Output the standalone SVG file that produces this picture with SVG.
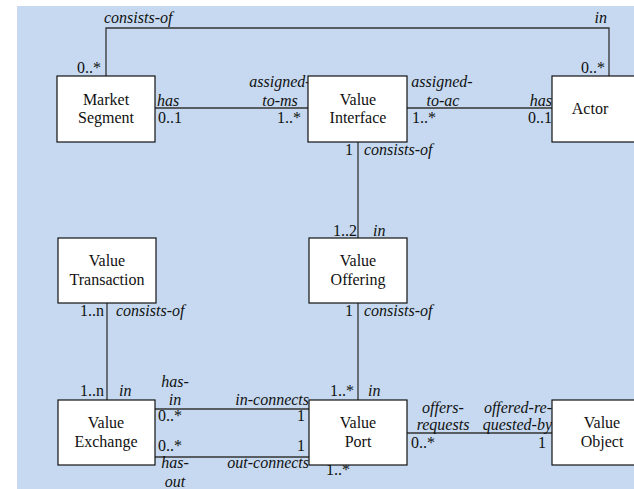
<svg xmlns="http://www.w3.org/2000/svg" width="634" height="489" viewBox="0 0 634 489">
  <style>
    .bg { fill: #c6d9f0; }
    .box { fill: #ffffff; stroke: #111111; stroke-width: 1.2; }
    text { font-family: "Liberation Serif", "Tinos", "DejaVu Serif", "Times New Roman", serif; font-size: 16px; fill: #111111; }
    .name { text-anchor: middle; }
    .role { font-style: italic; }
    .end { text-anchor: end; }
    .mid { text-anchor: middle; }
    .link { fill: none; stroke: #333333; stroke-width: 1.3; }
  </style>

  <rect class="bg" x="17" y="6" width="617" height="483"/>

  <!-- associations -->
  <g id="connectors">
    <polyline class="link" points="106,76 106,28 609,28 609,76"/>
    <line class="link" x1="155" y1="108" x2="308" y2="108"/>
    <line class="link" x1="407" y1="108" x2="552" y2="108"/>
    <line class="link" x1="358" y1="142" x2="358" y2="238"/>
    <line class="link" x1="358" y1="303" x2="358" y2="400"/>
    <line class="link" x1="107" y1="303" x2="107" y2="400"/>
    <line class="link" x1="155" y1="409" x2="309" y2="409"/>
    <line class="link" x1="155" y1="457" x2="309" y2="457"/>
    <line class="link" x1="407" y1="433" x2="552" y2="433"/>

    <!-- role names and multiplicities -->
    <text class="role" x="104" y="23">consists-of</text>
    <text class="mult end" x="101" y="73">0..*</text>
    <text class="role end" x="607" y="23">in</text>
    <text class="mult end" x="605" y="73">0..*</text>

    <text class="role" x="157" y="106">has</text>
    <text class="mult" x="158" y="123">0..1</text>
    <text class="role mid" x="280" y="87">assigned-</text>
    <text class="role mid" x="280" y="106">to-ms</text>
    <text class="mult end" x="301" y="123">1..*</text>

    <text class="role mid" x="442" y="87">assigned-</text>
    <text class="role mid" x="443" y="106">to-ac</text>
    <text class="mult" x="412" y="123">1..*</text>
    <text class="role end" x="552" y="106">has</text>
    <text class="mult end" x="552" y="123">0..1</text>

    <text class="mult end" x="353" y="155">1</text>
    <text class="role" x="364" y="155">consists-of</text>
    <text class="mult end" x="357" y="236">1..2</text>
    <text class="role" x="373" y="236">in</text>

    <text class="mult end" x="353" y="316">1</text>
    <text class="role" x="364" y="316">consists-of</text>
    <text class="mult end" x="354" y="396">1..*</text>
    <text class="role" x="368" y="396">in</text>

    <text class="mult end" x="104" y="316">1..n</text>
    <text class="role" x="116" y="316">consists-of</text>
    <text class="mult end" x="104" y="396">1..n</text>
    <text class="role" x="119" y="396">in</text>

    <text class="role mid" x="175" y="387">has-</text>
    <text class="role mid" x="175" y="405">in</text>
    <text class="mult" x="158" y="421">0..*</text>
    <text class="role end" x="309" y="405">in-connects</text>
    <text class="mult end" x="305" y="421">1</text>

    <text class="mult" x="158" y="451">0..*</text>
    <text class="mult end" x="305" y="451">1</text>
    <text class="role mid" x="175" y="468">has-</text>
    <text class="role mid" x="175" y="487">out</text>
    <text class="role end" x="309" y="468">out-connects</text>
    <text class="mult" x="326" y="475">1..*</text>

    <text class="role mid" x="443" y="413">offers-</text>
    <text class="role mid" x="443" y="430">requests</text>
    <text class="mult" x="411" y="448">0..*</text>
    <text class="role end" x="552" y="413">offered-re-</text>
    <text class="role end" x="552" y="430">quested-by</text>
    <text class="mult end" x="546" y="448">1</text>
  </g>

  <!-- concepts -->
  <g id="market-segment">
    <rect class="box" x="57" y="76" width="98" height="66"/>
    <text class="name" x="106" y="105">Market</text>
    <text class="name" x="106" y="123">Segment</text>
  </g>
  <g id="value-interface">
    <rect class="box" x="308" y="76" width="99" height="66"/>
    <text class="name" x="358" y="105">Value</text>
    <text class="name" x="358" y="123">Interface</text>
  </g>
  <g id="actor">
    <rect class="box" x="552" y="76" width="100" height="66"/>
    <text class="name" x="590" y="114">Actor</text>
  </g>
  <g id="value-transaction">
    <rect class="box" x="58" y="238" width="98" height="65"/>
    <text class="name" x="107" y="266">Value</text>
    <text class="name" x="107" y="285">Transaction</text>
  </g>
  <g id="value-offering">
    <rect class="box" x="309" y="238" width="98" height="65"/>
    <text class="name" x="358" y="266">Value</text>
    <text class="name" x="358" y="285">Offering</text>
  </g>
  <g id="value-exchange">
    <rect class="box" x="58" y="400" width="97" height="65"/>
    <text class="name" x="106" y="428">Value</text>
    <text class="name" x="106" y="447">Exchange</text>
  </g>
  <g id="value-port">
    <rect class="box" x="309" y="400" width="98" height="65"/>
    <text class="name" x="358" y="428">Value</text>
    <text class="name" x="358" y="447">Port</text>
  </g>
  <g id="value-object">
    <rect class="box" x="552" y="400" width="100" height="65"/>
    <text class="name" x="602" y="428">Value</text>
    <text class="name" x="602" y="447">Object</text>
  </g>
</svg>
